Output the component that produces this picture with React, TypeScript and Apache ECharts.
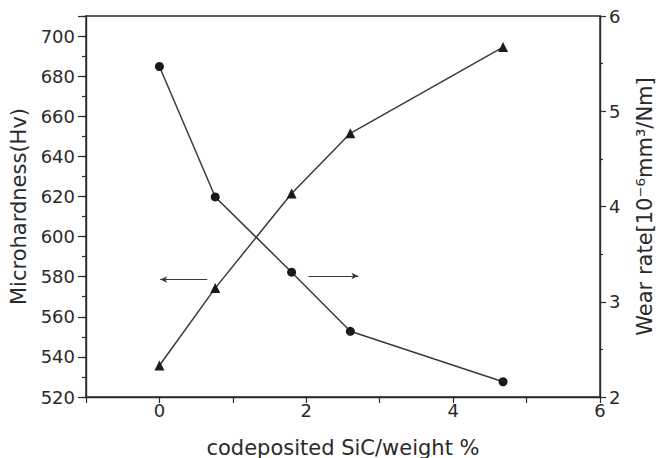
import React, { useEffect, useRef } from "react";
import * as echarts from "echarts";

const sicContent = [0, 0.76, 1.8, 2.6, 4.68];
const microhardness = [535.7, 574.3, 621.5, 651.5, 694.5];
const wearRate = [5.47, 4.1, 3.31, 2.69, 2.16];
const leftArrow = { x0: 0.65, x1: 0.01, y: 578.6 };
const rightArrow = { x0: 2.03, x1: 2.71, y: 3.27 };

const FONT = "DejaVu Sans";
const INK = "#2a2a2a";

export default function App() {
  const ref = useRef<HTMLDivElement>(null);
  useEffect(() => {
    if (!ref.current) return;
    const chart = echarts.init(ref.current, null, { renderer: "svg" });
    const axisLine = { show: true, onZero: false, lineStyle: { color: INK, width: 1.4 } };
    chart.setOption({
      animation: false,
      backgroundColor: "#fff",
      textStyle: { fontFamily: FONT },
      grid: {
        left: 86,
        right: 59,
        top: 16,
        bottom: 61,
        show: true,
        borderColor: INK,
        borderWidth: 1.4,
        outerBoundsMode: "none",
        containLabel: false,
      },
      xAxis: {
        type: "value",
        min: -1,
        max: 6,
        interval: 1,
        name: "codeposited SiC/weight %",
        nameLocation: "middle",
        nameGap: 40,
        nameTextStyle: { fontSize: 21, color: INK, fontFamily: FONT },
        axisLine,
        axisTick: { show: true, inside: false, length: 6, lineStyle: { color: INK, width: 1.2 } },
        axisLabel: {
          margin: 4,
          fontSize: 18,
          color: INK,
          fontFamily: FONT,
          formatter: (v: number) => (Math.round(v) % 2 === 0 && v >= 0 ? String(v) : ""),
        },
        splitLine: { show: false },
      },
      yAxis: [
        {
          type: "value",
          position: "left",
          min: 520,
          max: 710,
          interval: 20,
          name: "Microhardness(Hv)",
          nameLocation: "middle",
          nameGap: 56,
          nameRotate: 90,
          nameTextStyle: { fontSize: 21, color: INK, fontFamily: FONT },
          axisLine,
          axisTick: { show: true, length: 8, lineStyle: { color: INK, width: 1.2 } },
          axisLabel: {
            margin: 11,
            fontSize: 18,
            color: INK,
            fontFamily: FONT,
            formatter: (v: number) => (v % 20 === 0 ? String(v) : ""),
          },
          splitLine: { show: false },
        },
        {
          type: "value",
          position: "right",
          min: 2,
          max: 6,
          interval: 1,
          name: "Wear rate[10\u207B\u2076mm\u00B3/Nm]",
          nameLocation: "middle",
          nameGap: 34,
          nameRotate: 90,
          nameTextStyle: { fontSize: 21, color: INK, fontFamily: FONT },
          axisLine,
          axisTick: { show: true, length: 6, lineStyle: { color: INK, width: 1.2 } },
          minorTick: { show: true, splitNumber: 2, length: 3, lineStyle: { color: INK, width: 1.2 } },
          axisLabel: { margin: 9, fontSize: 18, color: INK, fontFamily: FONT },
          splitLine: { show: false },
          minorSplitLine: { show: false },
        },
        {
          type: "value",
          position: "left",
          min: 520,
          max: 710,
          interval: 10,
          axisLine: { show: false, onZero: false },
          axisTick: { show: true, length: 4, lineStyle: { color: INK, width: 1.2 } },
          axisLabel: { show: false },
          splitLine: { show: false },
        },
      ],
      series: [
        {
          name: "Microhardness",
          type: "line",
          yAxisIndex: 0,
          data: sicContent.map((x, i) => [x, microhardness[i]]),
          symbol: "triangle",
          symbolSize: 10,
          itemStyle: { color: "#1a1a1a" },
          lineStyle: { color: "#3a3a3a", width: 1.5 },
          markLine: {
            silent: true,
            symbol: ["none", "arrow"],
            symbolSize: [5, 7],
            label: { show: false },
            lineStyle: { color: "#3a3a3a", width: 1.2, type: "solid" },
            data: [
              [
                { coord: [leftArrow.x0, leftArrow.y] },
                { coord: [leftArrow.x1, leftArrow.y] },
              ],
            ],
          },
        },
        {
          name: "Wear rate",
          type: "line",
          yAxisIndex: 1,
          data: sicContent.map((x, i) => [x, wearRate[i]]),
          symbol: "circle",
          symbolSize: 9,
          itemStyle: { color: "#1a1a1a" },
          lineStyle: { color: "#3a3a3a", width: 1.5 },
          markLine: {
            silent: true,
            symbol: ["none", "arrow"],
            symbolSize: [5, 7],
            label: { show: false },
            lineStyle: { color: "#3a3a3a", width: 1.2, type: "solid" },
            data: [
              [
                { coord: [rightArrow.x0, rightArrow.y] },
                { coord: [rightArrow.x1, rightArrow.y] },
              ],
            ],
          },
        },
      ],
    });
    return () => chart.dispose();
  }, []);
  return <div ref={ref} style={{ width: 659, height: 458, position: "absolute", left: 0, top: 0 }} />;
}
